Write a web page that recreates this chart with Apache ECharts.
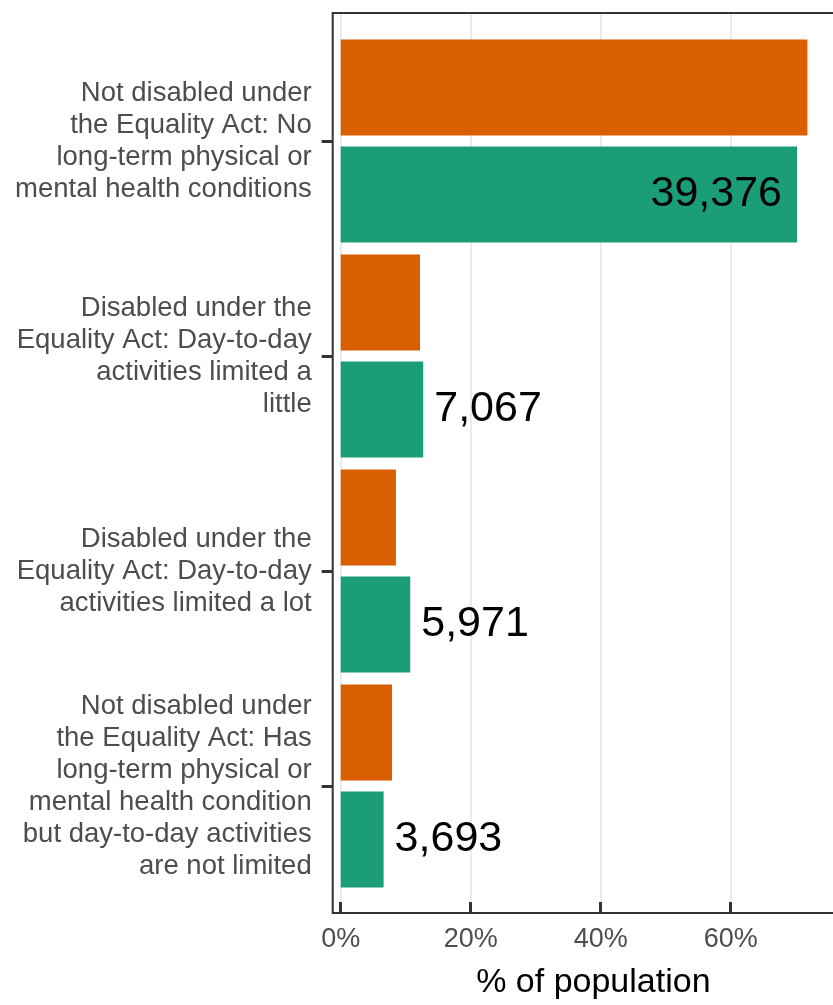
<!DOCTYPE html>
<html>
<head>
<meta charset="utf-8">
<script src="https://cdn.jsdelivr.net/npm/echarts@6/dist/echarts.min.js"></script>
<style>
  html, body { margin: 0; padding: 0; background: #fff; overflow: hidden; }
  /* the panel runs off the right edge of the picture, so the canvas is a bit wider */
  #chart { width: 860px; height: 1005px; }
</style>
</head>
<body>
<div id="chart"></div>
<script>
// categories, top to bottom
var categories = [
  "Not disabled under\nthe Equality Act: No\nlong-term physical or\nmental health conditions",
  "Disabled under the\nEquality Act: Day-to-day\nactivities limited a\nlittle",
  "Disabled under the\nEquality Act: Day-to-day\nactivities limited a lot",
  "Not disabled under\nthe Equality Act: Has\nlong-term physical or\nmental health condition\nbut day-to-day activities\nare not limited"
];
// % of population
var comparatorPct = [71.8, 12.2, 8.5, 7.9];
var respondentPct = [70.2, 12.7, 10.7, 6.6];
// counts shown next to the green bars
var respondentCounts = [39376, 7067, 5971, 3693];
var xTicks = [0, 20, 40, 60];

var FONT = "'Liberation Sans', Arial, sans-serif";
var PLOT_LEFT = 340.7;
var PX_PER_PCT = 6.5;
var X_MAX = (860 - PLOT_LEFT) / PX_PER_PCT;

var chart = echarts.init(document.getElementById("chart"));

var option = {
  backgroundColor: "#fff",
  animation: false,
  textStyle: { fontFamily: FONT },
  grid: [
    // panel: gridlines + x axis
    { left: PLOT_LEFT, top: 13, right: 0, height: 900 },
    // bars: category bands
    { left: PLOT_LEFT, top: 33.5, right: 0, height: 860 }
  ],
  xAxis: [
    {
      gridIndex: 0,
      type: "value",
      min: 0,
      max: X_MAX,
      interval: 20,
      axisLine: { show: false },
      axisTick: { show: true, length: 11, lineStyle: { color: "#333", width: 3 } },
      axisLabel: {
        margin: 24,
        fontSize: 27,
        color: "#4d4d4d",
        fontFamily: FONT,
        showMaxLabel: false,
        formatter: function (v) { return xTicks.indexOf(v) >= 0 ? v + "%" : ""; }
      },
      splitLine: { show: true, lineStyle: { color: "#ebebeb", width: 2 } },
      name: "% of population",
      nameLocation: "middle",
      nameGap: 64,
      nameTextStyle: { fontSize: 34, color: "#000", fontFamily: FONT, padding: [0, 14, 0, 0] }
    },
    {
      gridIndex: 1,
      type: "value",
      min: 0,
      max: X_MAX,
      show: false
    }
  ],
  yAxis: [
    { gridIndex: 0, type: "value", show: false },
    {
      gridIndex: 1,
      type: "category",
      inverse: true,
      data: categories,
      offset: 8,
      axisLine: { show: false, onZero: false },
      axisTick: { show: true, alignWithLabel: true, length: 11, lineStyle: { color: "#333", width: 3 } },
      axisLabel: {
        margin: 21,
        fontSize: 27.5,
        lineHeight: 32,
        color: "#4d4d4d",
        fontFamily: FONT,
        align: "right"
      },
      splitLine: { show: false }
    }
  ],
  series: [
    {
      name: "Comparator",
      type: "bar",
      xAxisIndex: 1,
      yAxisIndex: 1,
      data: comparatorPct,
      barWidth: 96,
      barGap: "11.5%",
      itemStyle: { color: "#D95F02" }
    },
    {
      name: "Respondents",
      type: "bar",
      xAxisIndex: 1,
      yAxisIndex: 1,
      barWidth: 96,
      barGap: "11.5%",
      itemStyle: { color: "#1B9E77" },
      label: {
        show: true,
        fontSize: 43,
        color: "#000",
        fontFamily: FONT,
        formatter: function (p) { return respondentCounts[p.dataIndex].toLocaleString("en-GB"); }
      },
      data: respondentPct.map(function (v, i) {
        return {
          value: v,
          label: i === 0 ? { position: "insideRight", distance: 15 } : { position: "right", distance: 11 }
        };
      })
    }
  ],
  graphic: [
    {
      type: "rect",
      z: 100,
      silent: true,
      shape: { x: 332.7, y: 13, width: 600, height: 900 },
      style: { fill: "none", stroke: "#333", lineWidth: 2 }
    }
  ]
};

chart.setOption(option);
</script>
</body>
</html>
